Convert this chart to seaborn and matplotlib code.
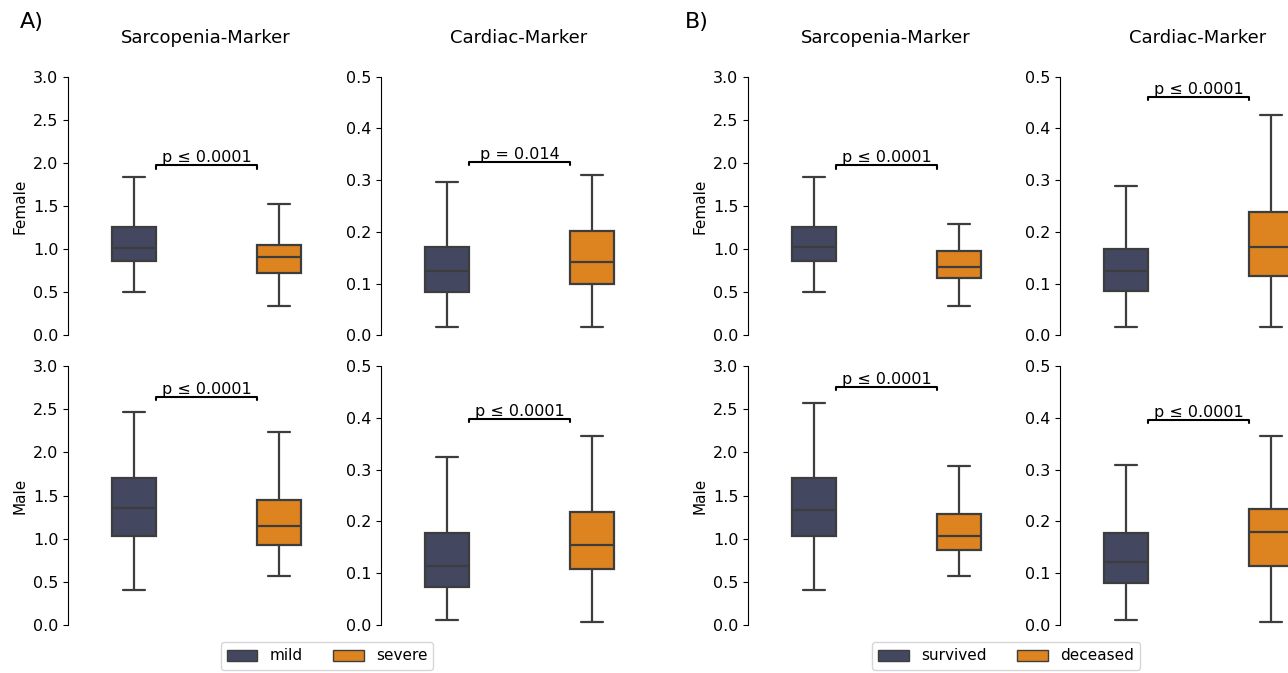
import numpy as np
import pandas as pd
import matplotlib
matplotlib.use("Agg")
import matplotlib.pyplot as plt
import matplotlib.patches as mpatches
import seaborn as sns

sns.set_style("ticks")
plt.rcParams['font.family'] = ['DejaVu Sans']
plt.rcParams['text.color'] = 'black'
plt.rcParams['axes.labelcolor'] = 'black'
plt.rcParams['ytick.color'] = 'black'
plt.rcParams['axes.edgecolor'] = 'black'

# five-number summaries: [min, q1, median, q3, max]
groups_a = ["mild", "severe"]
groups_b = ["survived", "deceased"]
markers = ["Sarcopenia-Marker", "Cardiac-Marker"]
sexes = ["Female", "Male"]

a_female_sarc = [[0.50, 0.86, 1.01, 1.26, 1.84], [0.34, 0.72, 0.91, 1.05, 1.52]]
a_female_card = [[0.015, 0.084, 0.125, 0.170, 0.297], [0.015, 0.100, 0.141, 0.201, 0.310]]
a_male_sarc = [[0.40, 1.03, 1.35, 1.70, 2.47], [0.57, 0.93, 1.15, 1.45, 2.24]]
a_male_card = [[0.009, 0.074, 0.114, 0.178, 0.325], [0.006, 0.108, 0.154, 0.219, 0.366]]

b_female_sarc = [[0.50, 0.86, 1.02, 1.26, 1.84], [0.34, 0.66, 0.79, 0.98, 1.29]]
b_female_card = [[0.015, 0.086, 0.124, 0.167, 0.289], [0.015, 0.114, 0.171, 0.239, 0.426]]
b_male_sarc = [[0.40, 1.03, 1.33, 1.70, 2.57], [0.57, 0.87, 1.03, 1.29, 1.84]]
b_male_card = [[0.009, 0.081, 0.121, 0.178, 0.310], [0.006, 0.113, 0.180, 0.224, 0.366]]

pvals_a = ["p ≤ 0.0001", "p = 0.014", "p ≤ 0.0001", "p ≤ 0.0001"]
pvals_b = ["p ≤ 0.0001", "p ≤ 0.0001", "p ≤ 0.0001", "p ≤ 0.0001"]
bracket_a = [1.97, 0.335, 2.64, 0.398]
bracket_b = [1.97, 0.461, 2.76, 0.397]

ymax = [3.0, 0.5]
ystep = [0.5, 0.1]
colors = ["#434860", "#dd8420"]
line_col = "#3d3d3d"

W, H = 1288, 673
fig = plt.figure(figsize=(W / 100, H / 100), dpi=100)

panels = [
    ("A)", 20, groups_a, [a_female_sarc, a_female_card, a_male_sarc, a_male_card], pvals_a, bracket_a, [68, 381], 327),
    ("B)", 685, groups_b, [b_female_sarc, b_female_card, b_male_sarc, b_male_card], pvals_b, bracket_b, [748, 1060], 1006),
]
row_top = [76.7, 366.3]
ax_h = 258.5
ax_w = 290


def draw_box(ax, summary, groups, ymx, step, ptxt, py):
    df = pd.DataFrame({
        "group": np.repeat(groups, 5),
        "value": np.concatenate(summary),
    })
    sns.boxplot(data=df, x="group", y="value", hue="group", order=groups,
                palette=dict(zip(groups, colors)), saturation=1, width=0.3,
                whis=(0, 100), linewidth=1.6, linecolor=line_col, legend=False, ax=ax)
    ax.set_xlim(-0.455, 1.545)
    ax.set_ylim(0, ymx)
    ax.set_yticks(np.round(np.arange(0, ymx + step / 2, step), 2))
    ax.tick_params(axis="y", labelsize=11.5)
    ax.set_xticks([])
    ax.set_xlabel("")
    ax.set_ylabel("")
    sns.despine(ax=ax, bottom=True)
    # significance bracket
    tip = ymx * 0.012
    ax.plot([0.15, 0.15, 0.85, 0.85], [py - tip, py, py, py - tip], color="black", lw=1.5)
    ax.text(0.5, py, ptxt, ha="center", va="bottom", fontsize=11.5)


for label, lab_x, groups, summaries, pvals, brackets, lefts, leg_x in panels:
    for r in range(2):
        for c in range(2):
            i = r * 2 + c
            rect = [lefts[c] / W, 1 - (row_top[r] + ax_h) / H, ax_w / W, ax_h / H]
            ax = fig.add_axes(rect)
            draw_box(ax, summaries[i], groups, ymax[c], ystep[c], pvals[i], brackets[i])
            if r == 0:
                ax.set_title(markers[c], fontsize=13, pad=24, x=0.475)
            if c == 0:
                ax.set_ylabel(sexes[r], fontsize=11)
    fig.text(lab_x / W, 1 - 22 / H, label, fontsize=16, ha="left", va="center")
    handles = [mpatches.Patch(facecolor=colors[k], edgecolor=line_col, linewidth=1, label=groups[k])
               for k in range(2)]
    fig.legend(handles=handles, loc="center", bbox_to_anchor=(leg_x / W, 1 - 656 / H),
               ncol=2, fontsize=11, frameon=True)

fig.savefig("out.png", dpi=100)
